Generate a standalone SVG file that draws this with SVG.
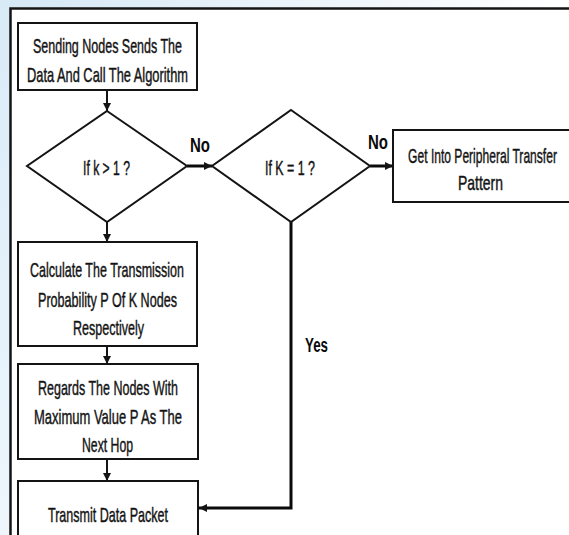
<svg xmlns="http://www.w3.org/2000/svg" width="569" height="535" viewBox="0 0 569 535">
<style>
.bg{fill:#ffffff}
.box{fill:#ffffff;stroke:#141414;stroke-width:2}
.dia{fill:#ffffff;stroke:#141414;stroke-width:2}
.frame{fill:none;stroke:#141414;stroke-width:2.5}
.t{font-family:"Liberation Sans",Arial,sans-serif;font-size:21px;fill:#141414;stroke:#141414;stroke-width:0.45}
.lb{font-family:"Liberation Sans",Arial,sans-serif;font-size:20px;font-weight:bold;fill:#0a0a0a}
.c{fill:none;stroke:#141414;stroke-width:2}
.ct{fill:none;stroke:#0a0a0a;stroke-width:3}
</style>
<defs>
<marker id="ah" markerUnits="userSpaceOnUse" markerWidth="9" markerHeight="9" refX="8" refY="4" orient="auto">
<path d="M0,0 L8,4 L0,8 z" fill="#141414"/>
</marker>
<linearGradient id="topg" x1="0" y1="0" x2="1" y2="0">
<stop offset="0" stop-color="#d5e8f6"/>
<stop offset="0.5" stop-color="#eaf3fa"/>
<stop offset="1" stop-color="#ffffff"/>
</linearGradient>
<linearGradient id="leftg" x1="0" y1="0" x2="0" y2="1">
<stop offset="0" stop-color="#d9eaf7"/>
<stop offset="0.5" stop-color="#e3f1fb"/>
<stop offset="1" stop-color="#eef6fc"/>
</linearGradient>
</defs>
<rect class="bg" x="0" y="0" width="569" height="535"/>
<rect x="0" y="0" width="569" height="9" fill="url(#topg)"/>
<rect x="0" y="0" width="10" height="535" fill="url(#leftg)"/>
<rect class="frame" x="10.5" y="8.5" width="600" height="560"/>

<g id="connectors">
<line class="c" x1="107" y1="90" x2="107" y2="111" marker-end="url(#ah)"/>
<line class="c" x1="107" y1="222" x2="107" y2="242" marker-end="url(#ah)"/>
<line class="c" x1="107" y1="346" x2="107" y2="364" marker-end="url(#ah)"/>
<line class="c" x1="107" y1="459" x2="107" y2="481" marker-end="url(#ah)"/>
<line class="ct" x1="187" y1="166" x2="212" y2="166" marker-end="url(#ah)"/>
<line class="ct" x1="370" y1="166" x2="393" y2="166" marker-end="url(#ah)"/>
<polyline class="ct" points="291,222 291,508 199,508" marker-end="url(#ah)"/>
<text class="lb" x="190" y="152" textLength="20" lengthAdjust="spacingAndGlyphs">No</text>
<text class="lb" x="368" y="149" textLength="20" lengthAdjust="spacingAndGlyphs">No</text>
<text class="lb" x="305" y="352" textLength="23" lengthAdjust="spacingAndGlyphs">Yes</text>
</g>

<g id="start">
<rect class="box" x="18" y="23" width="179" height="67"/>
<text class="t" x="33" y="53" textLength="149" lengthAdjust="spacingAndGlyphs">Sending Nodes Sends The</text>
<text class="t" x="27" y="82" textLength="161" lengthAdjust="spacingAndGlyphs">Data And Call The Algorithm</text>
</g>

<g id="decision1">
<polygon class="dia" points="107,111 187,166 107,222 27,166"/>
<text class="t" x="83" y="175" textLength="47" lengthAdjust="spacingAndGlyphs">If k &gt; 1 ?</text>
</g>

<g id="decision2">
<polygon class="dia" points="291,110 370,166 291,222 212,166"/>
<text class="t" x="265" y="175" textLength="50" lengthAdjust="spacingAndGlyphs">If K = 1 ?</text>
</g>

<g id="peripheral">
<rect class="box" x="393" y="130" width="200" height="72"/>
<text class="t" transform="translate(482.5,163) scale(0.575,1)" text-anchor="middle">Get Into Peripheral Transfer</text>
<text class="t" x="458" y="190" textLength="45" lengthAdjust="spacingAndGlyphs">Pattern</text>
</g>

<g id="calculate">
<rect class="box" x="18" y="242" width="179" height="104"/>
<text class="t" x="30" y="277" textLength="154" lengthAdjust="spacingAndGlyphs">Calculate The Transmission</text>
<text class="t" x="38" y="307" textLength="139" lengthAdjust="spacingAndGlyphs">Probability P Of K Nodes</text>
<text class="t" x="73" y="335" textLength="71" lengthAdjust="spacingAndGlyphs">Respectively</text>
</g>

<g id="regards">
<rect class="box" x="18" y="364" width="180" height="95"/>
<text class="t" x="38" y="395" textLength="140" lengthAdjust="spacingAndGlyphs">Regards The Nodes With</text>
<text class="t" x="34" y="424" textLength="148" lengthAdjust="spacingAndGlyphs">Maximum Value P As The</text>
<text class="t" x="82" y="452" textLength="51" lengthAdjust="spacingAndGlyphs">Next Hop</text>
</g>

<g id="transmit">
<rect class="box" x="18" y="481" width="180" height="80"/>
<text class="t" x="48" y="522" textLength="120" lengthAdjust="spacingAndGlyphs">Transmit Data Packet</text>
</g>
</svg>
